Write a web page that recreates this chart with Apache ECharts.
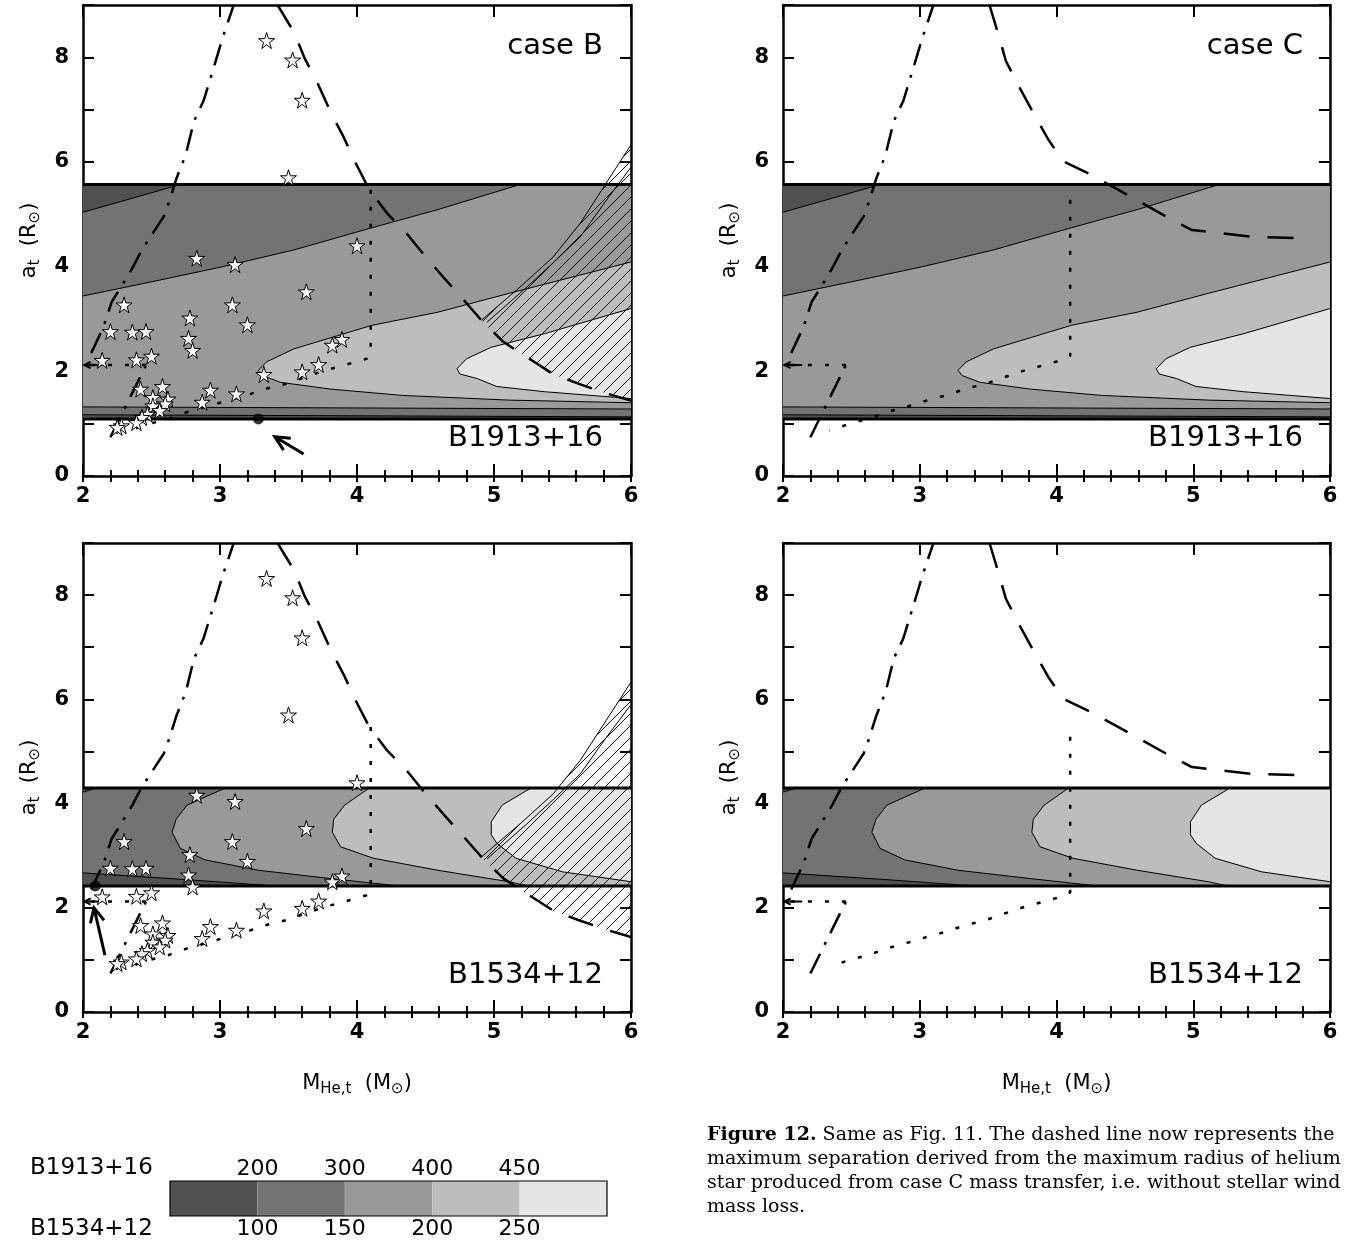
<!DOCTYPE html>
<html><head><meta charset="utf-8">
<script src="https://cdn.jsdelivr.net/npm/echarts@6/dist/echarts.min.js"></script>
<style>html,body{margin:0;padding:0;background:#fff}#c{width:1348px;height:1241px}</style>
</head><body><div id="c"></div>
<script>
// ---------------- DATA ----------------
const caseLabels = ['case B', 'case C'];
const pulsarNames = ['B1913+16', 'B1534+12'];
const grayLevels = ['#505050', '#737373', '#999999', '#bdbdbd', '#e5e5e5'];
const legendCells = [0, 1, 2, 3, 4];
const legendTopLabels = ['', '200', '300', '400', '450', ''];
const legendBottomLabels = ['', '100', '150', '200', '250', ''];
const captionLines = [
  'Same as Fig. 11. The dashed line now represents the',
  'maximum separation derived from the maximum radius of helium',
  'star produced from case C mass transfer, i.e. without stellar wind',
  'mass loss.'
];

// B1913+16 band and contours (a_t vs M_He,t)
const band1913 = [1.09, 5.57];
const c1913_200top = [[2, 5.04], [2.35, 5.30], [2.71, 5.57]];
const c1913_300top = [[2, 3.44], [2.5, 3.71], [3.02, 4.0], [3.54, 4.32], [4.09, 4.73], [4.59, 5.09], [5.19, 5.57]];
const c1913_400 = [[6, 4.09], [5.11, 3.49], [4.59, 3.13], [4.11, 2.88], [3.54, 2.43], [3.34, 2.18], [3.28, 2.02],
  [3.31, 1.92], [3.44, 1.79], [3.81, 1.66], [4.33, 1.54], [5.11, 1.45], [6, 1.40]];
const c1913_450 = [[6, 3.2], [5.37, 2.72], [4.98, 2.46], [4.80, 2.24], [4.73, 2.05], [4.75, 1.95], [4.88, 1.86],
  [5.02, 1.71], [5.37, 1.61], [6, 1.48]];
const c1913_300low = [[2, 1.32], [4, 1.30], [6, 1.28]];
const c1913_200low = [[2, 1.17], [3, 1.16], [4, 1.15], [5, 1.14], [6, 1.13]];

// B1534+12 band and contours
const band1534 = [2.42, 4.30];
const c1534_100top = [[2, 4.22], [2.1, 4.30]];
const c1534_100low = [[2, 2.67], [2.7, 2.55], [3.4, 2.42]];
const c1534_150 = [[3.04, 4.30], [2.76, 3.97], [2.68, 3.70], [2.65, 3.45], [2.71, 3.14], [2.89, 2.92], [3.28, 2.72], [3.81, 2.56], [4.30, 2.42]];
const c1534_200 = [[4.09, 4.30], [3.91, 3.97], [3.83, 3.70], [3.82, 3.45], [3.88, 3.17], [4.12, 2.95], [4.59, 2.72], [5.11, 2.50], [5.25, 2.42]];
const c1534_250 = [[5.27, 4.30], [5.06, 3.97], [4.98, 3.65], [4.98, 3.40], [5.02, 3.24], [5.16, 2.95], [5.50, 2.69], [6, 2.50]];

// limit lines
const dashedCaseB = [[3.42, 9.0], [3.54, 8.48], [3.62, 7.97], [3.71, 7.52], [3.81, 6.94], [3.90, 6.49], [3.99, 5.98], [4.09, 5.47],
  [4.22, 5.02], [4.37, 4.61], [4.50, 4.19], [4.64, 3.77], [4.79, 3.33], [4.92, 2.94], [5.07, 2.56], [5.24, 2.27],
  [5.43, 1.95], [5.62, 1.76], [5.83, 1.57], [6.0, 1.44]];
const dashedCaseC = [[3.51, 9.0], [3.57, 8.48], [3.63, 7.93], [3.73, 7.42], [3.83, 6.94], [3.94, 6.43], [4.05, 6.01],
  [4.25, 5.76], [4.43, 5.50], [4.63, 5.21], [4.80, 4.96], [4.99, 4.70], [5.20, 4.64], [5.43, 4.57], [5.84, 4.54]];
const dottedTopB = 5.47;
const dottedTopC = 5.28;
const dottedLower = [[4.1, 2.3], [4.07, 2.24], [3.91, 2.12], [3.77, 2.02], [3.62, 1.89], [3.48, 1.76], [3.34, 1.67],
  [3.19, 1.54], [3.05, 1.44], [2.90, 1.32], [2.76, 1.22], [2.62, 1.09], [2.49, 1.00], [2.34, 0.87]];
const dashDotLower = [[2.2, 0.74], [2.46, 2.12]];
const dottedHoriz = [[2.46, 2.12], [2.02, 2.12]];
const dashDotUpper = [[2.06, 2.35], [2.15, 2.85], [2.21, 3.33], [2.28, 3.62], [2.36, 3.97], [2.43, 4.32], [2.51, 4.64],
  [2.59, 4.96], [2.63, 5.25], [2.68, 5.67], [2.75, 6.14], [2.81, 6.78], [2.88, 7.17], [2.97, 7.94], [3.02, 8.38], [3.1, 9.0]];
const hatchOuter = [[4.91, 2.98], [5.19, 3.61], [5.43, 4.18], [5.63, 4.83], [5.82, 5.60], [6, 6.33]];
const hatchInner = [[4.95, 2.94], [5.24, 3.61], [5.43, 4.07], [5.63, 4.57], [5.82, 5.27], [6, 5.9]];

// simulated systems (stars)
const stars = [[3.34, 8.32], [3.53, 7.95], [3.60, 7.18], [3.50, 5.70], [4.00, 4.40], [2.83, 4.16], [3.11, 4.04], [3.63, 3.52],
  [2.30, 3.27], [3.09, 3.27], [3.20, 2.89], [2.78, 3.02], [2.77, 2.63], [2.80, 2.40], [2.20, 2.76], [2.36, 2.75],
  [2.46, 2.76], [2.14, 2.21], [2.39, 2.22], [2.50, 2.29], [3.89, 2.61], [3.82, 2.50], [3.72, 2.13], [3.60, 1.99],
  [3.32, 1.94], [2.42, 1.66], [2.58, 1.71], [2.51, 1.50], [2.62, 1.47], [2.60, 1.38], [2.93, 1.64], [3.12, 1.57],
  [2.87, 1.41], [2.51, 1.34], [2.56, 1.25], [2.47, 1.18], [2.43, 1.12], [2.39, 1.02], [2.28, 0.96], [2.25, 0.93]];
const observed1913 = [[3.28, 1.09]];
const observed1534 = [[2.09, 2.42]];
const arrows1913 = [[3.61, 0.42, 3.40, 0.75]];
const arrows1534 = [[2.16, 1.09, 2.08, 2.0]];
const smallArrow = [[2.14, 2.12, 2.01, 2.12]];

// ---------------- CHART ----------------
const chart = echarts.init(document.getElementById('c'), null, {renderer: 'canvas'});
const SANS = '"DejaVu Sans", sans-serif';
const grids = [
  {left: 83, top: 5, width: 548, height: 471},
  {left: 783, top: 5, width: 547, height: 471},
  {left: 83, top: 543, width: 548, height: 469},
  {left: 783, top: 543, width: 547, height: 469},
  {left: 170, top: 1181, width: 437, height: 35}
];
const xName = '{m|M}{s|He,t}{m|  (M}{s|\u2299}{m|)}';
const yName = '{m|a}{s|t}{m|  (R}{s|\u2299}{m|)}';
const nameRich = {
  m: {fontSize: 21, fontFamily: SANS, color: '#000'},
  s: {fontSize: 15, fontFamily: SANS, color: '#000', padding: [12, 0, 0, 0]}
};
const axLine = {show: true, onZero: false, lineStyle: {color: '#000', width: 2.5}};
const lblStyle = {color: '#000', fontFamily: SANS, fontWeight: 'bold', fontSize: 21};
const xAxis = [], yAxis = [];
const XPER = 4; // x axes per panel: major bottom, major top, minor bottom, minor top
for (let p = 0; p < 4; p++) {
  const base = {gridIndex: p, type: 'value', min: 2, max: 6, interval: 1, axisLine: axLine,
    axisTick: {show: true, inside: true, length: 12, lineStyle: {color: '#000', width: 2}},
    splitLine: {show: false}};
  xAxis.push(Object.assign({}, base, {position: 'bottom', axisLabel: Object.assign({margin: 10}, lblStyle),
    name: p >= 2 ? xName : '', nameLocation: 'middle', nameGap: 58, nameTextStyle: {rich: nameRich}}));
  xAxis.push(Object.assign({}, base, {position: 'top', axisLabel: {show: false}}));
  const minor = {gridIndex: p, type: 'value', min: 2, max: 6, interval: 0.2, axisLine: {show: false},
    axisLabel: {show: false}, splitLine: {show: false},
    axisTick: {show: true, inside: true, length: 6, lineStyle: {color: '#000', width: 2}}};
  xAxis.push(Object.assign({}, minor, {position: 'bottom'}));
  xAxis.push(Object.assign({}, minor, {position: 'top'}));
  const ybase = {gridIndex: p, type: 'value', min: 0, max: 9, interval: 1, axisLine: axLine,
    axisTick: {show: true, inside: true, length: 11, lineStyle: {color: '#000', width: 2}},
    splitLine: {show: false}};
  yAxis.push(Object.assign({}, ybase, {position: 'left',
    axisLabel: Object.assign({margin: 14, formatter: v => (v % 2 === 0 ? String(v) : '')}, lblStyle),
    name: yName, nameLocation: 'middle', nameRotate: 90, nameGap: 40, nameTextStyle: {rich: nameRich}}));
  yAxis.push(Object.assign({}, ybase, {position: 'right', axisLabel: {show: false}}));
}
// colour bar axes
const cbLbl = {color: '#000', fontFamily: SANS, fontSize: 22};
const CBX = xAxis.length;
xAxis.push({gridIndex: 4, type: 'value', min: 0, max: 5, interval: 1, position: 'top',
  axisLine: {show: false}, axisTick: {show: false}, splitLine: {show: false},
  axisLabel: Object.assign({margin: 1, formatter: v => legendTopLabels[v]}, cbLbl)});
xAxis.push({gridIndex: 4, type: 'value', min: 0, max: 5, interval: 1, position: 'bottom',
  axisLine: {show: false}, axisTick: {show: false}, splitLine: {show: false},
  axisLabel: Object.assign({margin: 2, formatter: v => legendBottomLabels[v]}, cbLbl)});
const CBY = yAxis.length;
yAxis.push({gridIndex: 4, type: 'value', min: 0, max: 1, show: false});

// hatch pattern
const hc = document.createElement('canvas');
hc.width = 12; hc.height = 12;
const hx = hc.getContext('2d');
hx.strokeStyle = '#111'; hx.lineWidth = 1;
hx.beginPath();
hx.moveTo(-1, 13); hx.lineTo(13, -1);
hx.moveTo(-1, 1); hx.lineTo(1, -1);
hx.moveTo(11, 13); hx.lineTo(13, 11);
hx.stroke();
const hatchFill = {image: hc, repeat: 'repeat'};

function polyS(p, pts, fill, z) {
  return {type: 'custom', xAxisIndex: XPER * p, yAxisIndex: 2 * p, z: z, silent: true, clip: true,
    data: [[pts[0][0], pts[0][1]]], encode: {x: 0, y: 1},
    renderItem: function (params, api) {
      return {type: 'polygon', shape: {points: pts.map(q => api.coord(q))}, style: {fill: fill, stroke: null}};
    }};
}
function lineS(p, pts, width, type, z) {
  return {type: 'line', xAxisIndex: XPER * p, yAxisIndex: 2 * p, data: pts, showSymbol: false, symbol: 'none',
    silent: true, clip: true, z: z, lineStyle: {color: '#000', width: width, type: type, cap: 'butt'}};
}
function arrowS(p, arr, width, head, z) {
  return {type: 'custom', xAxisIndex: XPER * p, yAxisIndex: 2 * p, z: z, silent: true, clip: false,
    data: arr, encode: {x: [0, 2], y: [1, 3]},
    renderItem: function (params, api) {
      const a = api.coord([api.value(0), api.value(1)]);
      const b = api.coord([api.value(2), api.value(3)]);
      const ang = Math.atan2(b[1] - a[1], b[0] - a[0]);
      const h1 = [b[0] - head * Math.cos(ang - 0.45), b[1] - head * Math.sin(ang - 0.45)];
      const h2 = [b[0] - head * Math.cos(ang + 0.45), b[1] - head * Math.sin(ang + 0.45)];
      return {type: 'group', children: [
        {type: 'polyline', shape: {points: [a, b]}, style: {stroke: '#000', lineWidth: width, fill: null}},
        {type: 'polyline', shape: {points: [h1, b, h2]}, style: {stroke: '#000', lineWidth: width, fill: null}}
      ]};
    }};
}
const starPath = 'path://M50,2 L61,37 L98,37 L68,59 L79,94 L50,72 L21,94 L32,59 L2,37 L39,37 Z';

const series = [];
const DASH = [26, 18], DASHDOT = [22, 10, 3, 10], DOT = [4, 13];
for (let p = 0; p < 4; p++) {
  const isB = (p % 2 === 0);
  const is1913 = p < 2;
  if (is1913) {
    const [lo, hi] = band1913;
    series.push(polyS(p, [[2, lo], [6, lo], [6, hi], [2, hi]], grayLevels[2], 1));
    series.push(polyS(p, c1913_300top.concat([[2, hi]]), grayLevels[1], 2));
    series.push(polyS(p, c1913_200top.concat([[2, hi]]), grayLevels[0], 3));
    series.push(polyS(p, c1913_400, grayLevels[3], 2));
    series.push(polyS(p, c1913_450, grayLevels[4], 3));
    series.push(polyS(p, [[2, lo]].concat(c1913_300low, [[6, lo]]), grayLevels[1], 2));
    series.push(polyS(p, [[2, lo]].concat(c1913_200low, [[6, lo]]), grayLevels[0], 3));
    [c1913_200top, c1913_300top, c1913_400, c1913_450, c1913_300low, c1913_200low].forEach(c => series.push(lineS(p, c, 1, 'solid', 4)));
    series.push(lineS(p, [[2, lo], [6, lo]], 3, 'solid', 6));
    series.push(lineS(p, [[2, hi], [6, hi]], 3, 'solid', 6));
  } else {
    const [lo, hi] = band1534;
    series.push(polyS(p, [[2, lo], [6, lo], [6, hi], [2, hi]], grayLevels[1], 1));
    series.push(polyS(p, c1534_150.concat([[6, lo], [6, hi]]), grayLevels[2], 2));
    series.push(polyS(p, c1534_200.concat([[6, lo], [6, hi]]), grayLevels[3], 3));
    series.push(polyS(p, c1534_250.concat([[6, hi]]), grayLevels[4], 4));
    series.push(polyS(p, [[2, lo]].concat(c1534_100low), grayLevels[0], 3));
    series.push(polyS(p, c1534_100top.concat([[2, hi]]), grayLevels[0], 3));
    [c1534_100top, c1534_100low, c1534_150, c1534_200, c1534_250].forEach(c => series.push(lineS(p, c, 1, 'solid', 5)));
    series.push(lineS(p, [[2, lo], [6, lo]], 3, 'solid', 6));
    series.push(lineS(p, [[2, hi], [6, hi]], 3, 'solid', 6));
  }
  if (isB) {
    const tail = dashedCaseB.filter(q => q[0] >= hatchOuter[0][0]).reverse();
    series.push(polyS(p, hatchOuter.concat([[6, dashedCaseB[dashedCaseB.length - 1][1]]], tail.slice(1)), hatchFill, 7));
    series.push(lineS(p, hatchOuter, 1, 'solid', 7));
    series.push(lineS(p, hatchInner, 1, 'solid', 7));
  }
  series.push(lineS(p, isB ? dashedCaseB : dashedCaseC, 2.5, DASH, 8));
  series.push(lineS(p, [[4.1, isB ? dottedTopB : dottedTopC]].concat(dottedLower), 2.5, DOT, 8));
  series.push(lineS(p, dashDotLower, 2.5, DASHDOT, 8));
  series.push(lineS(p, dottedHoriz, 2.5, DOT, 8));
  series.push(lineS(p, dashDotUpper, 2.5, DASHDOT, 8));
  series.push(arrowS(p, smallArrow, 2, 7, 8));
  if (isB) {
    series.push({type: 'scatter', xAxisIndex: XPER * p, yAxisIndex: 2 * p, data: stars, symbol: starPath, symbolSize: 16,
      z: 10, silent: true, itemStyle: {color: '#fff', borderColor: '#000', borderWidth: 1, opacity: 1}});
    series.push({type: 'scatter', xAxisIndex: XPER * p, yAxisIndex: 2 * p, data: is1913 ? observed1913 : observed1534,
      symbol: 'circle', symbolSize: 11, z: 11, silent: true, itemStyle: {color: '#000'}});
    series.push(arrowS(p, is1913 ? arrows1913 : arrows1534, 3, 16, 11));
  }
}
// colour bar
series.push({type: 'custom', xAxisIndex: CBX, yAxisIndex: CBY, silent: true, data: legendCells.map(i => [i, 0]), encode: {x: 0, y: 1},
  renderItem: function (params, api) {
    const i = api.value(0);
    const a = api.coord([i, 1]), b = api.coord([i + 1, 0]);
    return {type: 'rect', shape: {x: a[0], y: a[1], width: b[0] - a[0], height: b[1] - a[1]}, style: {fill: grayLevels[i]}};
  }});
series.push({type: 'custom', xAxisIndex: CBX, yAxisIndex: CBY, silent: true, z: 5, data: [[0, 0]], encode: {x: 0, y: 1},
  renderItem: function (params, api) {
    const a = api.coord([0, 1]), b = api.coord([legendCells.length, 0]);
    return {type: 'rect', shape: {x: a[0], y: a[1], width: b[0] - a[0], height: b[1] - a[1]}, style: {fill: null, stroke: '#000', lineWidth: 1.2}};
  }});

const panelFont = '29px "DejaVu Sans", sans-serif';
const graphic = [];
[[603, 46, caseLabels[0]], [1303, 46, caseLabels[1]], [603, 438, pulsarNames[0]], [1303, 438, pulsarNames[0]],
 [603, 975, pulsarNames[1]], [1303, 975, pulsarNames[1]]].forEach(t => {
  graphic.push({type: 'text', x: t[0], y: t[1], z: 100, style: {text: t[2], font: panelFont, fill: '#000', textAlign: 'right', textVerticalAlign: 'middle'}});
});
graphic.push({type: 'text', x: 30, y: 1168, style: {text: pulsarNames[0], font: '23px "DejaVu Sans", sans-serif', fill: '#000', textVerticalAlign: 'middle'}});
graphic.push({type: 'text', x: 30, y: 1229, style: {text: pulsarNames[1], font: '23px "DejaVu Sans", sans-serif', fill: '#000', textVerticalAlign: 'middle'}});
captionLines.forEach((ln, i) => {
  graphic.push({type: 'text', x: 707, y: 1135 + i * 24, style: {
    text: i === 0 ? '{b|Figure 12.} ' + ln : ln,
    rich: {b: {font: 'bold 19px "DejaVu Serif", serif', fill: '#000'}},
    font: '19px "DejaVu Serif", serif', fill: '#000', textVerticalAlign: 'middle'}});
});

chart.setOption({
  animation: false,
  backgroundColor: '#fff',
  grid: grids,
  xAxis: xAxis,
  yAxis: yAxis,
  series: series,
  graphic: graphic
});
</script></body></html>
